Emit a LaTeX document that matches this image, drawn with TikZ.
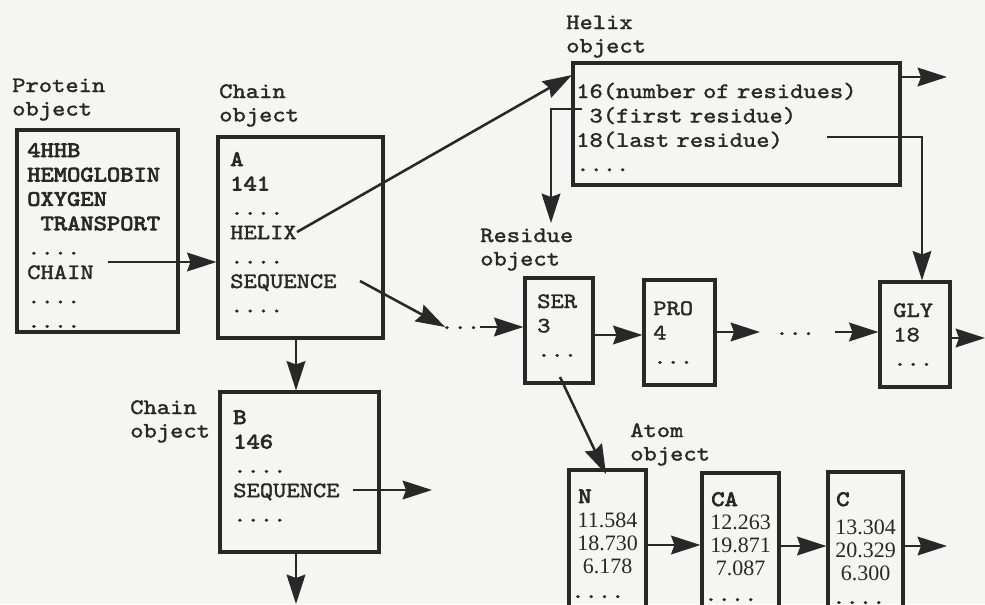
\documentclass[tikz,border=0pt]{standalone}
\usepackage{fontspec}
\newfontfamily\mono[FakeStretch=1.15,FakeBold=1.6]{lmmono10-regular.otf}
\newfontfamily\monob[FakeStretch=1.15,FakeBold=3.5]{lmmono10-regular.otf}
\newfontfamily\tms{Liberation Serif}
\newcommand{\bx}[1]{{\monob #1}}
\usetikzlibrary{arrows.meta,fit}
\definecolor{ink}{RGB}{40,40,40}
\definecolor{paper}{RGB}{245,245,243}
\begin{document}
\begin{tikzpicture}[x=0.75pt,y=-0.75pt,
  box/.style={draw=ink,line width=2.3pt,inner sep=0pt},
  arr/.style={draw=ink,line width=1.9pt,-{Stealth[length=22pt,width=14pt,inset=2.5pt]}},
  lbl/.style={text=ink,font=\mono\fontsize{16.5}{17.6}\selectfont,inner sep=0pt,anchor=base west,text width=100pt,align=left},
  cnt/.style={text=ink,font=\mono\fontsize{16.5}{18.3}\selectfont,inner sep=0pt,anchor=base west,text width=250pt,align=left},
  dotz/.style={text=ink,font=\mono\fontsize{16.5}{18.3}\selectfont,inner sep=0pt,anchor=base west},
  num/.style={text=ink,font=\tms\fontsize{16.5}{17.6}\selectfont,inner sep=0pt,anchor=base,text width=60pt,align=center},
]
\fill[paper] (0,0) rectangle (985,604);
\useasboundingbox (0,0) rectangle (985,604);
\clip (0,0) rectangle (985,604);

% ---------- boxes ----------
\node[box,fit={(17,130)(178,332)}] (prot) {};
\node[box,fit={(218,137)(383,338)}] (chA) {};
\node[box,fit={(220,392)(379,552)}] (chB) {};
\node[box,fit={(573,63)(900,185)}] (helix) {};
\node[box,fit={(525,278)(593,383)}] (ser) {};
\node[box,fit={(644,280)(715,385)}] (pro) {};
\node[box,fit={(880,282)(950,387)}] (gly) {};
\node[box,fit={(569,470)(646,650)}] (atN) {};
\node[box,fit={(702,473)(779,650)}] (atCA) {};
\node[box,fit={(828,472)(903,650)}] (atC) {};

% ---------- labels ----------
\node[lbl] (protL) at (12,92) {Protein\\object};
\node[lbl] (chAL) at (219,98) {Chain\\object};
\node[lbl] (chBL) at (130,414) {Chain\\object};
\node[lbl] (helL) at (566,29) {Helix\\object};
\node[lbl] (resL) at (480,242) {Residue\\object};
\node[lbl] (atL) at (630,437) {Atom\\object};

% ---------- contents ----------
\node[cnt] (protT) at (27,157) {\bx{4HHB}\\\bx{HEMOGLOBIN}\\\bx{OXYGEN}\\\bx{\hphantom{X}TRANSPORT}\\....\\CHAIN\\....\\....};
\node[cnt] (chAT) at (230,166) {\bx{A}\\\bx{141}\\....\\HELIX\\....\\SEQUENCE\\....};
\node[cnt] (chBT) at (233,424) {\bx{B}\\\bx{146}\\....\\SEQUENCE\\....};
\node[cnt] (helT) at (576,98) {16(number of residues)\\\hphantom{1}3(first residue)\\18(last residue)\\....};
\node[cnt] (serT) at (537,308) {SER\\3\\...};
\node[cnt] (proT) at (653,315) {PRO\\4\\...};
\node[cnt] (glyT) at (893,317) {GLY\\18\\...};

\node[cnt] (atNT) at (578,503) {\bx{N}};
\node[num] (atNV) at (607.5,527) {11.584\\18.730\\6.178};
\node[dotz] (atND) at (571,598) {....};
\node[cnt] (atCAT) at (711,506) {\bx{CA}};
\node[num] (atCAV) at (740.5,529) {12.263\\19.871\\7.087};
\node[dotz] (atCAD) at (704,601) {....};
\node[cnt] (atCT) at (836,506) {\bx{C}};
\node[num] (atCV) at (865.5,534) {13.304\\20.329\\6.300};
\node[dotz] (atCD) at (832,604) {....};

\node[dotz] (dots1) at (440,329) {...};
\node[dotz] (dots2) at (775,335) {...};

% ---------- connectors ----------
\coordinate (pChain) at (108,262);
\draw[arr] (pChain) -- (pChain -| chA.west);

\coordinate (aHelix) at (297,232);
\coordinate (hIn) at (572,75);
\draw[arr] (aHelix) -- (hIn);

\coordinate (xAB) at (296,0);
\draw[arr] (chA.south -| xAB) -- (chB.north -| xAB);
\coordinate (bDown) at (296,604);
\draw[arr] (chB.south -| xAB) -- (bDown);

\coordinate (bSeq) at (353,490);
\coordinate (bOut) at (432,490);
\draw[arr] (bSeq) -- (bOut);

\coordinate (aSeq) at (360,281);
\coordinate (d1Tip) at (445,327);
\draw[arr] (aSeq) -- (d1Tip);
\coordinate (d1y) at (0,327);
\draw[arr] (dots1.east |- d1y) -- (ser.west |- d1y);

\coordinate (h3) at (582,109);
\coordinate (h3c) at (551,109);
\coordinate (rTip) at (551,223);
\draw[arr] (h3) -- (h3c) -- (rTip);

\coordinate (h18) at (827,137);
\coordinate (h18c) at (922,137);
\draw[arr] (h18) -- (h18c) -- (h18c |- gly.north);

\coordinate (hOut) at (947,77);
\draw[arr] (helix.east |- hOut) -- (hOut);

\coordinate (sp) at (0,335);
\draw[arr] (ser.east |- sp) -- (pro.west |- sp);
\coordinate (pOut) at (760,332);
\draw[arr] (pro.east |- pOut) -- (pOut);
\coordinate (gIn) at (835,332);
\draw[arr] (gIn) -- (gly.west |- gIn);
\coordinate (gOut) at (985,338);
\draw[arr] (gly.east |- gOut) -- (gOut);

\coordinate (sAt) at (560,377);
\coordinate (nTip) at (606,474);
\draw[arr] (sAt) -- (nTip);

\coordinate (a1) at (0,545);
\draw[arr] (atN.east |- a1) -- (atCA.west |- a1);
\coordinate (a2) at (0,546);
\draw[arr] (atCA.east |- a2) -- (atC.west |- a2);
\coordinate (cOut) at (947,546);
\draw[arr] (atC.east |- cOut) -- (cOut);
\end{tikzpicture}
\end{document}
